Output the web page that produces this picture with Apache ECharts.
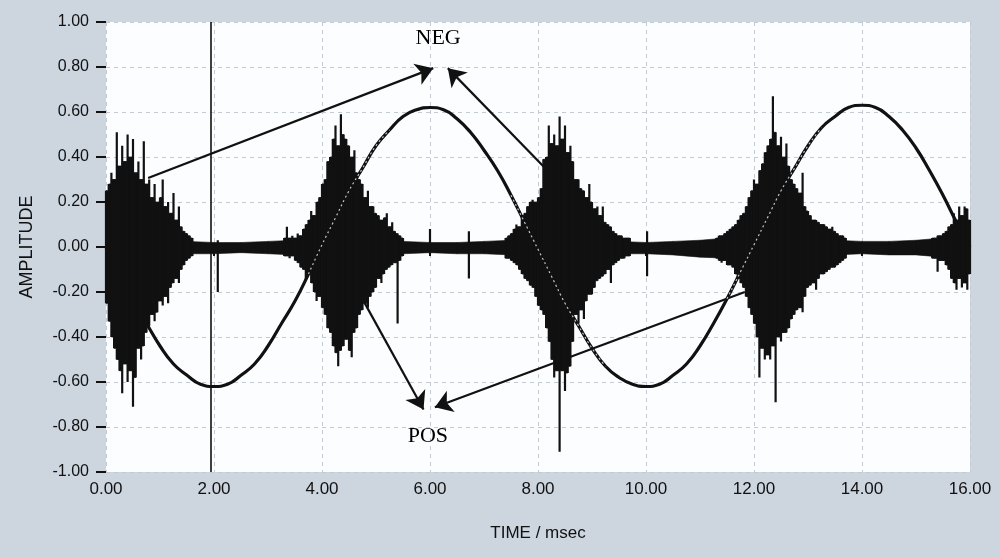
<!DOCTYPE html>
<html>
<head>
<meta charset="utf-8">
<script src="https://cdn.jsdelivr.net/npm/echarts@6/dist/echarts.min.js"></script>
<style>
html,body{margin:0;padding:0;background:#cdd5df;}
#c{width:999px;height:558px;}
</style>
</head>
<body>
<div id="c"></div>
<script>
// ---- tick labels ----
const xTicks = [0, 2, 4, 6, 8, 10, 12, 14, 16];
const yTicks = [-1, -0.8, -0.6, -0.4, -0.2, 0, 0.2, 0.4, 0.6, 0.8, 1];

// ---- slow sinusoid, sampled every 0.25 ms from t = 0 to 16 ----
const sineStep = 0.25;
const sineValues = [
  0.00, -0.12, -0.24, -0.34, -0.44, -0.52, -0.57, -0.61, -0.62,
  -0.61, -0.57, -0.52, -0.44, -0.34, -0.24, -0.12, 0.01,
  0.13, 0.25, 0.35, 0.45, 0.52, 0.58, 0.61, 0.62,
  0.61, 0.57, 0.51, 0.43, 0.34, 0.23, 0.11, -0.01,
  -0.13, -0.25, -0.35, -0.45, -0.53, -0.58, -0.61, -0.62,
  -0.61, -0.57, -0.52, -0.44, -0.34, -0.23, -0.11, 0.01,
  0.13, 0.25, 0.35, 0.45, 0.53, 0.58, 0.62, 0.63,
  0.62, 0.58, 0.52, 0.44, 0.34, 0.23, 0.11, 0.00
];

// ---- quiet background noise band (every 0.5 ms) ----
const baseT  = [0,0.5,1,1.5,2,2.5,3,3.5,4,4.5,5,5.5,6,6.5,7,7.5,8,8.5,9,9.5,10,10.5,11,11.5,12,12.5,13,13.5,14,14.5,15,15.5,16];
const baseHi = [0.025,0.025,0.025,0.025,0.02,0.02,0.025,0.03,0.03,0.03,0.03,0.025,0.02,0.02,0.025,0.03,0.03,0.03,0.03,0.025,0.02,0.025,0.03,0.04,0.04,0.04,0.035,0.03,0.025,0.025,0.03,0.04,0.05];
const baseLo = [-0.025,-0.025,-0.025,-0.03,-0.03,-0.025,-0.03,-0.035,-0.035,-0.035,-0.035,-0.03,-0.025,-0.03,-0.03,-0.035,-0.035,-0.035,-0.035,-0.03,-0.03,-0.035,-0.045,-0.05,-0.05,-0.05,-0.045,-0.035,-0.03,-0.035,-0.035,-0.045,-0.06];

// ---- noise bursts: peak (hi) and trough (lo) every 0.05 ms ----
const burstStep = 0.05;
const burst1Start = 0.00;
const burst1Hi = [0.25,0.28,0.33,0.30,0.51,0.36,0.45,0.38,0.50,0.40,0.48,0.33,0.38,0.30,0.47,0.28,0.30,0.22,0.28,0.20,0.22,0.30,0.18,0.20,0.15,0.24,0.12,0.18,0.09,0.07,0.06,0.05,0.04];
const burst1Lo = [-0.25,-0.33,-0.40,-0.45,-0.50,-0.55,-0.65,-0.52,-0.60,-0.55,-0.71,-0.58,-0.45,-0.50,-0.44,-0.38,-0.35,-0.30,-0.33,-0.29,-0.24,-0.26,-0.22,-0.25,-0.18,-0.16,-0.14,-0.16,-0.10,-0.08,-0.06,-0.05,-0.04];

const burst2Start = 3.30;
const burst2Hi = [0.04,0.09,0.04,0.05,0.04,0.06,0.05,0.08,0.10,0.12,0.16,0.14,0.20,0.22,0.28,0.30,0.38,0.40,0.48,0.54,0.45,0.59,0.50,0.48,0.45,0.40,0.43,0.33,0.30,0.28,0.22,0.25,0.18,0.18,0.15,0.14,0.12,0.13,0.15,0.09,0.11,0.07,0.06,0.05,0.04];
const burst2Lo = [-0.04,-0.04,-0.05,-0.04,-0.06,-0.07,-0.09,-0.10,-0.14,-0.12,-0.16,-0.20,-0.24,-0.22,-0.27,-0.30,-0.36,-0.38,-0.44,-0.47,-0.53,-0.46,-0.44,-0.41,-0.46,-0.49,-0.38,-0.36,-0.30,-0.28,-0.25,-0.27,-0.22,-0.20,-0.18,-0.14,-0.16,-0.12,-0.10,-0.09,-0.08,-0.07,-0.34,-0.06,-0.04];

const burst3Start = 7.40;
const burst3Hi = [0.04,0.05,0.06,0.08,0.10,0.09,0.14,0.15,0.18,0.20,0.21,0.20,0.22,0.26,0.39,0.40,0.54,0.46,0.50,0.45,0.58,0.48,0.54,0.42,0.45,0.38,0.30,0.30,0.26,0.25,0.22,0.28,0.20,0.17,0.18,0.14,0.18,0.11,0.10,0.09,0.07,0.06,0.05,0.05,0.04,0.04,0.04];
const burst3Lo = [-0.05,-0.05,-0.06,-0.07,-0.08,-0.10,-0.12,-0.14,-0.15,-0.17,-0.18,-0.22,-0.26,-0.28,-0.30,-0.36,-0.42,-0.50,-0.58,-0.55,-0.91,-0.55,-0.64,-0.56,-0.53,-0.42,-0.30,-0.34,-0.28,-0.32,-0.24,-0.21,-0.21,-0.18,-0.15,-0.14,-0.13,-0.12,-0.10,-0.16,-0.08,-0.07,-0.06,-0.05,-0.05,-0.04,-0.04];

const burst4Start = 11.30;
const burst4Hi = [0.04,0.05,0.05,0.06,0.07,0.08,0.09,0.10,0.12,0.14,0.15,0.18,0.22,0.25,0.30,0.28,0.34,0.37,0.42,0.45,0.48,0.67,0.51,0.45,0.49,0.40,0.46,0.36,0.30,0.28,0.26,0.24,0.33,0.18,0.16,0.14,0.12,0.12,0.11,0.10,0.10,0.09,0.08,0.09,0.07,0.06,0.05,0.05,0.04];
const burst4Lo = [-0.05,-0.06,-0.07,-0.06,-0.08,-0.08,-0.09,-0.12,-0.14,-0.16,-0.18,-0.22,-0.27,-0.30,-0.34,-0.40,-0.58,-0.45,-0.50,-0.48,-0.50,-0.44,-0.69,-0.40,-0.42,-0.38,-0.38,-0.36,-0.32,-0.30,-0.28,-0.27,-0.29,-0.22,-0.18,-0.17,-0.16,-0.19,-0.14,-0.12,-0.12,-0.11,-0.10,-0.09,-0.09,-0.08,-0.07,-0.06,-0.05];

const burst5Start = 15.30;
const burst5Hi = [0.04,0.04,0.05,0.05,0.06,0.07,0.09,0.10,0.15,0.12,0.18,0.14,0.18,0.17,0.12];
const burst5Lo = [-0.05,-0.05,-0.11,-0.06,-0.06,-0.08,-0.10,-0.14,-0.16,-0.19,-0.14,-0.18,-0.16,-0.19,-0.12];

// ---- isolated spikes [time, top, bottom] ----
const spikeT  = [2.07, 6.00, 6.72, 10.02];
const spikeHi = [0.03, 0.08, 0.07, 0.07];
const spikeLo = [-0.20, -0.03, -0.14, -0.13];

// ---- marker line and annotations ----
const markerT = 1.94;
const labelNEG = {text: 'NEG', t: 6.15, v: 0.93};
const labelPOS = {text: 'POS', t: 5.96, v: -0.84};
const arrows = [
  [[0.78, 0.307], [6.06, 0.795]],
  [[8.13, 0.351], [6.33, 0.795]],
  [[4.76, -0.236], [5.88, -0.722]],
  [[11.83, -0.200], [6.09, -0.712]]
];

// ---------- build series data ----------
const sineData = sineValues.map((v, i) => [i * sineStep, v]);
const hiliteIdx = [[15, 21], [30, 37], [46, 53]];
const sineHilite = sineValues.map((v, i) => {
  const inside = hiliteIdx.some(r => i >= r[0] && i <= r[1]);
  return inside ? [i * sineStep, v] : [i * sineStep, null];
});

const burstSamples = [];   // vertical strokes [t, hi, lo]
const burstCores = [];     // filled core between neighbouring samples [t0, t1, hi, lo]
[[burst1Start, burst1Hi, burst1Lo], [burst2Start, burst2Hi, burst2Lo],
 [burst3Start, burst3Hi, burst3Lo], [burst4Start, burst4Hi, burst4Lo],
 [burst5Start, burst5Hi, burst5Lo]].forEach(([s, hi, lo]) => {
  hi.forEach((h, i) => {
    const t = +(s + i * burstStep).toFixed(2);
    burstSamples.push([t, h, lo[i]]);
    if (i < hi.length - 1) {
      const t1 = +(s + (i + 1) * burstStep).toFixed(2);
      burstCores.push([t, t1, Math.min(h, hi[i + 1]), Math.max(lo[i], lo[i + 1])]);
    }
  });
});
spikeT.forEach((t, i) => burstSamples.push([t, spikeHi[i], spikeLo[i]]));

const baseSegs = [];
for (let i = 0; i < baseT.length - 1; i++) {
  baseSegs.push([baseT[i], baseHi[i], baseLo[i], baseT[i + 1], baseHi[i + 1], baseLo[i + 1]]);
}

const INK = '#111111';
const fmt2 = v => (Math.abs(v) < 1e-9 ? '0.00' : v.toFixed(2));

const chart = echarts.init(document.getElementById('c'), null, {renderer: 'canvas'});
chart.setOption({
  animation: false,
  backgroundColor: '#cdd5df',
  grid: {
    left: 106, right: 29, top: 22, bottom: 86,
    show: true, backgroundColor: '#fcfdfe', borderWidth: 0
  },
  xAxis: {
    type: 'value', min: 0, max: 16, interval: 2,
    name: 'TIME / msec', nameLocation: 'middle', nameGap: 53,
    nameTextStyle: {fontFamily: 'Liberation Sans', fontSize: 17, color: INK},
    axisLine: {show: false},
    axisTick: {show: true, length: 9, lineStyle: {color: INK, width: 2}},
    axisLabel: {formatter: fmt2, fontFamily: 'Liberation Sans', fontSize: 17, color: INK, margin: 9},
    splitLine: {show: true, lineStyle: {color: '#c3cad4', type: [4, 4], width: 1}}
  },
  yAxis: {
    type: 'value', min: -1, max: 1, interval: 0.2,
    name: 'AMPLITUDE', nameLocation: 'middle', nameGap: 70, nameRotate: 90,
    nameTextStyle: {fontFamily: 'Liberation Sans', fontSize: 18, color: INK},
    axisLine: {show: false},
    axisTick: {show: true, length: 10, lineStyle: {color: INK, width: 2}},
    axisLabel: {formatter: fmt2, fontFamily: 'Liberation Sans', fontSize: 16, color: INK, margin: 17},
    splitLine: {show: true, lineStyle: {color: '#c3cad4', type: [4, 4], width: 1}}
  },
  series: [
    {
      name: 'baseline', type: 'custom', z: 3, silent: true,
      data: baseSegs,
      renderItem: (params, api) => {
        const a = api.coord([api.value(0), api.value(1)]);
        const b = api.coord([api.value(3), api.value(4)]);
        const c = api.coord([api.value(3), api.value(5)]);
        const d = api.coord([api.value(0), api.value(2)]);
        return {type: 'polygon', shape: {points: [a, b, c, d]}, style: {fill: INK, stroke: INK, lineWidth: 0.6}};
      }
    },
    {
      name: 'sine', type: 'line', z: 4, smooth: true, symbol: 'none',
      data: sineData,
      lineStyle: {color: INK, width: 3.2}
    },
    {
      name: 'burstCore', type: 'custom', z: 5, silent: true,
      data: burstCores,
      renderItem: (params, api) => {
        const a = api.coord([api.value(0), api.value(2)]);
        const b = api.coord([api.value(1), api.value(3)]);
        return {type: 'rect', shape: {x: a[0], y: a[1], width: b[0] - a[0], height: b[1] - a[1]}, style: {fill: INK, stroke: INK, lineWidth: 0.8}};
      }
    },
    {
      name: 'bursts', type: 'custom', z: 5, silent: true,
      data: burstSamples,
      renderItem: (params, api) => {
        const a = api.coord([api.value(0), api.value(1)]);
        const b = api.coord([api.value(0), api.value(2)]);
        return {type: 'line', shape: {x1: a[0], y1: a[1], x2: b[0], y2: b[1]}, style: {stroke: INK, lineWidth: 2.2}};
      }
    },
    {
      name: 'sineTrace', type: 'line', z: 6, smooth: true, symbol: 'none',
      connectNulls: false,
      data: sineHilite,
      lineStyle: {color: 'rgba(225,228,232,0.85)', width: 1.2, type: [2, 3]}
    },
    {
      name: 'annotations', type: 'scatter', z: 8, symbolSize: 0,
      itemStyle: {opacity: 1},
      data: [
        {value: [labelNEG.t, labelNEG.v], name: labelNEG.text},
        {value: [labelPOS.t, labelPOS.v], name: labelPOS.text}
      ],
      label: {
        show: true, position: 'inside', formatter: p => p.name,
        fontFamily: 'Liberation Serif', fontSize: 22, color: '#000',
        textBorderWidth: 0, opacity: 1
      },
      markLine: {
        silent: true, animation: false,
        symbol: ['none', 'arrow'], symbolSize: 17,
        lineStyle: {color: INK, width: 2.2, type: 'solid', opacity: 1},
        label: {show: false},
        data: arrows.map(([s, e]) => [{coord: s}, {coord: e}])
          .concat([[{coord: [markerT, 1], symbol: 'none', lineStyle: {width: 1.6}}, {coord: [markerT, -1], symbol: 'none'}]])
      }
    }
  ]
});
</script>
</body>
</html>
